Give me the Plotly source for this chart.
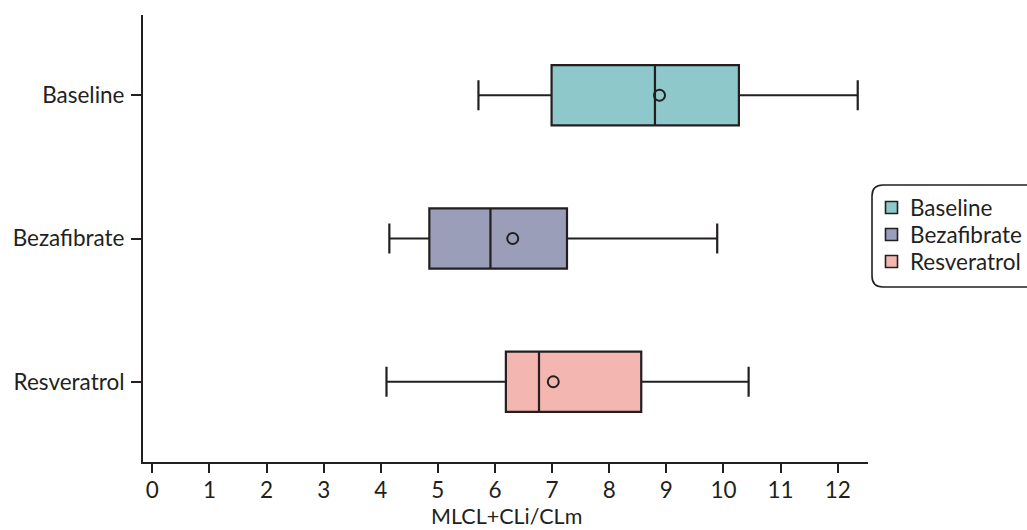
import plotly.graph_objects as go

# Box statistics per treatment group (MLCL+CLi/CLm ratio)
groups = ["Baseline", "Bezafibrate", "Resveratrol"]
lower_whisker = [5.71, 4.15, 4.10]
q1_values = [6.99, 4.85, 6.19]
medians = [8.80, 5.92, 6.77]
q3_values = [10.27, 7.26, 8.56]
upper_whisker = [12.35, 9.89, 10.44]
means = [8.88, 6.31, 7.02]
x_title = "MLCL+CLi/CLm"

fill_colors = ["#8EC8CB", "#9A9EB8", "#F4B6B1"]
ink = "#231F20"
font_family = "Lato"
font_size = 22.5

fig = go.Figure()

for i, g in enumerate(groups):
    fig.add_trace(go.Box(
        name=g,
        y=[g],
        orientation="h",
        q1=[q1_values[i]],
        median=[medians[i]],
        q3=[q3_values[i]],
        lowerfence=[lower_whisker[i]],
        upperfence=[upper_whisker[i]],
        fillcolor=fill_colors[i],
        line=dict(color=ink, width=2.2),
        width=0.42,
        whiskerwidth=0.5,
        boxpoints=False,
        showlegend=False,
        hoverinfo="skip",
    ))

# Group means as open circles
fig.add_trace(go.Scatter(
    x=means,
    y=groups,
    mode="markers",
    marker=dict(symbol="circle-open", size=11, color=ink, line=dict(width=2)),
    showlegend=False,
    hoverinfo="skip",
))

# Plot-area geometry in pixels, used to place the legend panel and axis title
W, H = 1027, 530
L, R, T, B = 143, 159, 15, 68
pw, ph = W - L - R, H - T - B


def px_to_paper(px, py):
    return (px - L) / pw, (H - B - py) / ph


def rounded_rect(x0, y0, x1, y1, r):
    def P(px, py):
        x, y = px_to_paper(px, py)
        return f"{x:.5f},{y:.5f}"
    return (
        f"M{P(x0 + r, y0)} L{P(x1 - r, y0)} Q{P(x1, y0)} {P(x1, y0 + r)} "
        f"L{P(x1, y1 - r)} Q{P(x1, y1)} {P(x1 - r, y1)} "
        f"L{P(x0 + r, y1)} Q{P(x0, y1)} {P(x0, y1 - r)} "
        f"L{P(x0, y0 + r)} Q{P(x0, y0)} {P(x0 + r, y0)} Z"
    )


# Legend panel: rounded frame, colour swatches and labels
fig.add_shape(
    type="path",
    xref="paper", yref="paper",
    path=rounded_rect(872, 185, 1040, 287, 11),
    line=dict(color=ink, width=1.6),
    fillcolor="rgba(0,0,0,0)",
    layer="above",
)

row_y0, row_step = 207.5, 27
swatch_cx, swatch_half = 891.5, 6
text_x = 908
for i, g in enumerate(groups):
    cy = row_y0 + i * row_step
    x0, y0 = px_to_paper(swatch_cx - swatch_half, cy + swatch_half)
    x1, y1 = px_to_paper(swatch_cx + swatch_half, cy - swatch_half)
    fig.add_shape(
        type="rect", xref="paper", yref="paper",
        x0=x0, y0=y0, x1=x1, y1=y1,
        fillcolor=fill_colors[i],
        line=dict(color=ink, width=1.6),
        layer="above",
    )
    tx, ty = px_to_paper(text_x, cy)
    fig.add_annotation(
        x=tx, y=ty, xref="paper", yref="paper",
        text=g, showarrow=False,
        xanchor="left", yanchor="middle",
        font=dict(family=font_family, size=font_size, color=ink),
    )

# X-axis title, anchored to its bottom edge at the foot of the page
atx, aty = px_to_paper(506.5, 530)
fig.add_annotation(
    x=atx, y=aty, xref="paper", yref="paper",
    text=x_title, showarrow=False,
    xanchor="center", yanchor="bottom",
    borderpad=0,
    font=dict(family=font_family, size=21.5, color=ink),
)

fig.update_layout(
    width=W, height=H,
    margin=dict(l=L, r=R, t=T, b=B, autoexpand=False),
    paper_bgcolor="white",
    plot_bgcolor="white",
    font=dict(family=font_family, size=font_size, color=ink),
    showlegend=False,
    boxmode="overlay",
    xaxis=dict(
        range=[-0.163, 12.53],
        tickmode="array",
        tickvals=list(range(0, 13)),
        ticktext=[str(v) for v in range(0, 13)],
        showgrid=False,
        zeroline=False,
        showline=True,
        linecolor=ink,
        linewidth=2,
        ticks="outside",
        ticklen=9,
        tickwidth=2,
        tickcolor=ink,
        ticklabelstandoff=-2,
        tickfont=dict(family=font_family, size=font_size, color=ink),
    ),
    yaxis=dict(
        type="category",
        categoryorder="array",
        categoryarray=groups,
        range=[2.56, -0.56],
        showgrid=False,
        zeroline=False,
        showline=True,
        linecolor=ink,
        linewidth=2,
        ticks="outside",
        ticklen=10,
        tickwidth=2,
        tickcolor=ink,
        ticklabelstandoff=2,
        tickfont=dict(family=font_family, size=font_size, color=ink),
    ),
)

fig.write_html("out.html")
